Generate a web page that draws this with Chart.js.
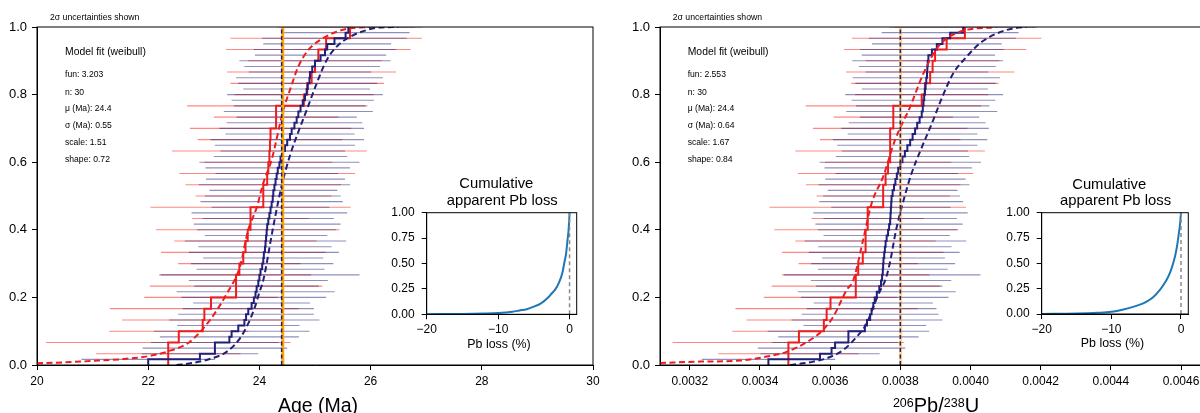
<!DOCTYPE html>
<html><head><meta charset="utf-8">
<script src="https://cdn.jsdelivr.net/npm/chart.js@4.4.0/dist/chart.umd.min.js"></script>
<style>
html,body{margin:0;padding:0;background:#fff;overflow:hidden;width:1200px;height:413px;}
#wrap{position:relative;width:1200px;height:413px;overflow:hidden;background:#fff;}
canvas{position:absolute;}
</style></head><body>
<div id="wrap">
<canvas id="cL" width="600" height="413" style="left:0px;top:0px;width:600px;height:413px"></canvas>
<canvas id="cR" width="610" height="413" style="left:600px;top:0px;width:610px;height:413px"></canvas>
<canvas id="iL" width="230" height="190" style="left:370px;top:170px;width:230px;height:190px"></canvas>
<canvas id="iR" width="215" height="190" style="left:985px;top:170px;width:215px;height:190px"></canvas>
</div>
<script>
// ---------------- DATA ----------------
// Left panel (age, Ma)
const xTicksAge = [20, 22, 24, 26, 28, 30];
const yTicksMain = [0, 0.2, 0.4, 0.6, 0.8, 1.0];
const statsLeft = ['fun: 3.203', 'n: 30', 'μ (Ma): 24.4', 'σ (Ma): 0.55', 'scale: 1.51', 'shape: 0.72'];
const muAge = 24.42;       // orange line
const muAgeDash = 24.40;   // dashed line

const redAgeSorted = [22.36, 22.36, 22.55, 22.98, 23.01, 23.13, 23.58, 23.58, 23.64, 23.71,
  23.75, 23.79, 23.84, 23.84, 24.07, 24.07, 24.14, 24.16, 24.18, 24.19,
  24.20, 24.30, 24.30, 24.80, 24.86, 24.94, 25.00, 25.06, 25.20, 25.63];
const redAgeErr = [1.30, 2.20, 1.25, 1.45, 1.70, 1.20, 1.55, 1.35, 1.10, 1.48,
  1.28, 1.65, 1.05, 1.80, 1.22, 1.40, 1.58, 1.15, 1.75, 1.30,
  1.45, 1.12, 1.60, 1.25, 1.38, 1.52, 1.20, 1.66, 1.72, 1.30];

const blueAgeSorted = [22.00, 22.93, 23.20, 23.20, 23.46, 23.50, 23.62, 23.73, 23.76, 23.80,
  23.86, 23.90, 23.93, 23.95, 23.98, 24.00, 24.02, 24.05, 24.07, 24.08,
  24.10, 24.11, 24.12, 24.13, 24.14, 24.16, 24.18, 24.20, 24.22, 24.24,
  24.25, 24.27, 24.29, 24.31, 24.33, 24.36, 24.38, 24.42, 24.46, 24.50,
  24.55, 24.58, 24.63, 24.67, 24.70, 24.74, 24.78, 24.82, 24.85, 24.87,
  24.90, 24.91, 24.95, 25.00, 25.10, 25.18, 25.22, 25.35, 25.55, 25.60];
const blueAgeErr = [1.20, 1.05, 1.30, 1.15, 1.25, 1.40, 1.10, 1.35, 1.22, 1.18,
  1.05, 1.30, 1.42, 1.12, 1.25, 1.80, 1.15, 1.28, 1.08, 1.35,
  1.20, 1.45, 1.10, 1.25, 1.32, 1.18, 1.40, 1.06, 1.28, 1.22,
  1.15, 1.36, 1.25, 1.10, 1.30, 1.44, 1.20, 1.12, 1.26, 1.38,
  1.16, 1.30, 1.22, 1.08, 1.34, 1.20, 1.28, 1.40, 1.14, 1.25,
  1.32, 1.10, 1.22, 1.36, 1.18, 1.28, 1.15, 1.30, 1.15, 1.20];

const redFitAgeX = [20.0, 20.5, 21.0, 21.5, 22.0, 22.33, 22.75, 23.11, 23.41, 23.65, 23.80, 23.95, 24.07, 24.22, 24.43, 24.55, 24.70, 24.88, 25.15, 25.39, 25.63, 26.0];
const redFitAgeY = [0.005, 0.008, 0.012, 0.017, 0.026, 0.039, 0.069, 0.133, 0.21, 0.291, 0.40, 0.465, 0.538, 0.607, 0.754, 0.814, 0.883, 0.932, 0.967, 0.986, 0.996, 1.0];
const blueFitAgeX = [22.51, 22.8, 23.05, 23.41, 23.65, 23.80, 23.92, 24.0, 24.07, 24.25, 24.40, 24.55, 24.70, 24.85, 25.03, 25.21, 25.39, 25.63, 25.93, 26.11, 26.5];
const blueFitAgeY = [0.0, 0.006, 0.015, 0.039, 0.079, 0.123, 0.172, 0.215, 0.251, 0.41, 0.53, 0.62, 0.69, 0.754, 0.833, 0.902, 0.942, 0.971, 0.991, 0.998, 1.0];

// Right panel (206Pb/238U)
const xTicksRatio = [0.0032, 0.0034, 0.0036, 0.0038, 0.0040, 0.0042, 0.0044, 0.0046];
const statsRight = ['fun: 2.553', 'n: 30', 'μ (Ma): 24.4', 'σ (Ma): 0.64', 'scale: 1.67', 'shape: 0.84'];
const muRatio = 0.003801;
const muRatioDash = 0.003800;

const redRatioSorted = [0.003481, 0.003481, 0.003511, 0.003582, 0.003590, 0.003601, 0.003673, 0.003673, 0.003680, 0.003693,
  0.003701, 0.003701, 0.003707, 0.003707, 0.003751, 0.003751, 0.003758, 0.003765, 0.003771, 0.003771,
  0.003771, 0.003780, 0.003780, 0.003861, 0.003870, 0.003885, 0.003892, 0.003899, 0.003932, 0.003984];
const redRatioErr = [0.000200, 0.000330, 0.000190, 0.000220, 0.000260, 0.000190, 0.000240, 0.000210, 0.000170, 0.000230,
  0.000200, 0.000260, 0.000160, 0.000280, 0.000190, 0.000220, 0.000250, 0.000180, 0.000270, 0.000200,
  0.000220, 0.000170, 0.000250, 0.000190, 0.000210, 0.000240, 0.000190, 0.000260, 0.000270, 0.000200];

const blueRatioSorted = [0.003424, 0.003571, 0.003604, 0.003614, 0.003652, 0.003652, 0.003699, 0.003705, 0.003714, 0.003718,
  0.003723, 0.003727, 0.003733, 0.003740, 0.003745, 0.003748, 0.003750, 0.003751, 0.003752, 0.003754,
  0.003756, 0.003758, 0.003761, 0.003765, 0.003768, 0.003771, 0.003772, 0.003773, 0.003774, 0.003775,
  0.003778, 0.003782, 0.003786, 0.003790, 0.003794, 0.003800, 0.003806, 0.003813, 0.003820, 0.003828,
  0.003835, 0.003842, 0.003848, 0.003855, 0.003861, 0.003864, 0.003866, 0.003868, 0.003870, 0.003872,
  0.003874, 0.003876, 0.003877, 0.003878, 0.003880, 0.003890, 0.003904, 0.003920, 0.003942, 0.003979];
const blueRatioErr = [0.000190, 0.000170, 0.000210, 0.000180, 0.000200, 0.000230, 0.000175, 0.000215, 0.000195, 0.000185,
  0.000170, 0.000210, 0.000225, 0.000180, 0.000200, 0.000280, 0.000185, 0.000205, 0.000175, 0.000215,
  0.000190, 0.000230, 0.000180, 0.000200, 0.000210, 0.000190, 0.000220, 0.000170, 0.000205, 0.000195,
  0.000185, 0.000215, 0.000200, 0.000175, 0.000210, 0.000230, 0.000190, 0.000180, 0.000200, 0.000220,
  0.000185, 0.000210, 0.000195, 0.000170, 0.000215, 0.000190, 0.000205, 0.000225, 0.000180, 0.000200,
  0.000210, 0.000175, 0.000195, 0.000215, 0.000190, 0.000205, 0.000185, 0.000210, 0.000195, 0.000210];

const redFitRatioX = [0.003115, 0.003229, 0.003343, 0.003419, 0.003476, 0.003543, 0.003580, 0.003609, 0.003647, 0.003666, 0.003694, 0.003718, 0.003751, 0.003785, 0.003828, 0.003866, 0.003908, 0.003970, 0.004075];
const redFitRatioY = [0.006, 0.010, 0.013, 0.025, 0.039, 0.074, 0.104, 0.143, 0.222, 0.251, 0.370, 0.478, 0.557, 0.666, 0.764, 0.863, 0.942, 0.986, 1.0];
const blueFitRatioX = [0.003486, 0.003552, 0.003590, 0.003637, 0.003676, 0.003704, 0.003723, 0.003740, 0.003757, 0.003770, 0.003788, 0.003812, 0.003832, 0.003858, 0.003890, 0.003920, 0.003951, 0.003989, 0.004027, 0.004075, 0.004122, 0.004160];
const blueFitRatioY = [0.0, 0.010, 0.020, 0.044, 0.084, 0.123, 0.172, 0.215, 0.251, 0.301, 0.40, 0.498, 0.567, 0.636, 0.715, 0.794, 0.863, 0.912, 0.952, 0.981, 0.996, 1.0];

// Insets: cumulative apparent Pb loss
const insetXTicks = [-20, -10, 0];
const insetYTicks = [0, 0.25, 0.5, 0.75, 1.0];
const lossX = [-20, -15, -12, -10, -8, -7, -6, -5, -4, -3, -2.5, -2, -1.5, -1, -0.7, -0.5, -0.3, -0.15, -0.05, 0];
const lossLeftY = [0.001, 0.004, 0.008, 0.013, 0.026, 0.038, 0.05, 0.075, 0.108, 0.165, 0.205, 0.245, 0.31, 0.41, 0.52, 0.59, 0.72, 0.82, 0.92, 1.0];
const lossRightY = [0.001, 0.005, 0.012, 0.022, 0.05, 0.068, 0.09, 0.12, 0.165, 0.24, 0.29, 0.345, 0.42, 0.53, 0.62, 0.70, 0.80, 0.88, 0.96, 1.0];

// ---------------- HELPERS ----------------
const FONT = '"Liberation Sans", Arial, Helvetica, sans-serif';
Chart.defaults.font.family = FONT;
Chart.defaults.color = '#000';
Chart.defaults.animation = false;

const RED = '#f01c1c', NAVY = '#20207a';

function barPoints(centers, errs) {
  const n = centers.length, out = [];
  centers.forEach((c, i) => {
    const y = (i + 1) / n;
    out.push({x: c - errs[i], y: y}, {x: c + errs[i], y: y}, {x: c, y: null});
  });
  return out;
}
function ecdfPoints(sorted) {
  const n = sorted.length, pts = [{x: sorted[0], y: 0}];
  sorted.forEach((v, i) => pts.push({x: v, y: (i + 1) / n}));
  return pts;
}
function xy(xs, ys) { return xs.map((x, i) => ({x: x, y: ys[i]})); }

function axis(o) {
  return {
    type: 'linear', min: o.min, max: o.max, position: o.pos,
    afterBuildTicks: s => { s.ticks = o.ticks.map(v => ({value: v})); },
    afterFit: s => {
      if (o.w != null) { s.width = o.w; s.paddingTop = 0; s.paddingBottom = 0; }
      if (o.h != null) { s.height = o.h; s.paddingLeft = 0; s.paddingRight = 0; }
    },
    grid: {display: true, drawOnChartArea: false, drawTicks: true, tickLength: 5, color: '#000', lineWidth: 1},
    border: {display: true, color: '#000', width: 1},
    ticks: {color: '#000', font: {size: o.fs, family: FONT}, padding: o.pad, maxRotation: 0, minRotation: 0, autoSkip: false, callback: o.fmt}
  };
}

function overlay(texts, extra) {
  return {
    id: 'overlay',
    afterDatasetsDraw(chart) {
      const {ctx, chartArea: a} = chart;
      ctx.save();
      ctx.strokeStyle = '#000'; ctx.lineWidth = 1;
      ctx.strokeRect(a.left, a.top, a.right - a.left, a.bottom - a.top);
      ctx.restore();
    },
    afterDraw(chart) {
      const ctx = chart.ctx;
      ctx.save();
      ctx.fillStyle = '#000';
      texts.forEach(t => {
        ctx.font = t.s + 'px ' + FONT;
        ctx.textAlign = t.a || 'left';
        ctx.textBaseline = t.b || 'middle';
        ctx.fillText(t.t, t.x, t.y);
      });
      if (extra) extra(ctx);
      ctx.restore();
    }
  };
}

function statTexts(x0, stats) {
  const ys = [75, 92.3, 109, 126, 142.7, 160];
  const arr = [
    {t: '2σ uncertainties shown', x: x0 - 15, y: 17.3, s: 8.7},
    {t: 'Model fit (weibull)', x: x0, y: 51.7, s: 10.4}
  ];
  stats.forEach((s, i) => arr.push({t: s, x: x0, y: ys[i], s: 8.6}));
  return arr;
}

function mainDatasets(rs, re, bs, be, rfx, rfy, bfx, bfy, mu, muDash, orangeCol) {
  const base = {showLine: true, pointRadius: 0, clip: 0, spanGaps: false, fill: false};
  return [
    Object.assign({}, base, {data: [{x: muDash, y: 0}, {x: muDash, y: 1}], borderColor: NAVY, borderWidth: 1.5, borderDash: [4, 2.5], order: 0}),
    Object.assign({}, base, {data: [{x: mu, y: 0}, {x: mu, y: 1}], borderColor: orangeCol, borderWidth: 3, order: 1}),
    Object.assign({}, base, {data: xy(bfx, bfy), borderColor: NAVY, borderWidth: 2, borderDash: [6, 3.5], cubicInterpolationMode: 'monotone', order: 2}),
    Object.assign({}, base, {data: xy(rfx, rfy), borderColor: RED, borderWidth: 2, borderDash: [6, 3.5], cubicInterpolationMode: 'monotone', order: 3}),
    Object.assign({}, base, {data: ecdfPoints(bs), borderColor: NAVY, borderWidth: 2, stepped: 'before', order: 4}),
    Object.assign({}, base, {data: ecdfPoints(rs), borderColor: RED, borderWidth: 2, stepped: 'before', order: 5}),
    Object.assign({}, base, {data: barPoints(bs, be), borderColor: 'rgba(32,32,122,0.5)', borderWidth: 1.1, order: 6}),
    Object.assign({}, base, {data: barPoints(rs, re), borderColor: 'rgba(255,40,25,0.55)', borderWidth: 1.1, order: 7})
  ];
}

const commonOpts = {
  responsive: false, animation: false, events: [], devicePixelRatio: 1,
  plugins: {legend: {display: false}, tooltip: {enabled: false}, title: {display: false}}
};

// ---------------- LEFT MAIN ----------------
new Chart(document.getElementById('cL'), {
  type: 'scatter',
  data: {datasets: mainDatasets(redAgeSorted, redAgeErr, blueAgeSorted, blueAgeErr,
    redFitAgeX, redFitAgeY, blueFitAgeX, blueFitAgeY, muAge, muAgeDash, '#ffa500')},
  options: Object.assign({}, commonOpts, {
    layout: {padding: {top: 27, right: 7, left: 0, bottom: 0}},
    scales: {
      x: axis({min: 20, max: 30, ticks: xTicksAge, h: 48, fs: 12, pad: 4, pos: 'bottom', fmt: v => String(v)}),
      y: axis({min: 0, max: 1, ticks: yTicksMain, w: 37, fs: 13, pad: 5, pos: 'left', fmt: v => v.toFixed(1)})
    }
  }),
  plugins: [overlay(statTexts(65, statsLeft).concat([{t: 'Age (Ma)', x: 318, y: 411.5, s: 19.5, a: 'center', b: 'alphabetic'}]))]
});

// ---------------- RIGHT MAIN ----------------
function ratioTitle(ctx) {
  const cx = 336, base = 411.5, supBase = 406.5;
  const parts = [['206', 12.5, supBase], ['Pb/', 20, base], ['238', 12.5, supBase], ['U', 20, base]];
  let total = 0;
  parts.forEach(p => { ctx.font = p[1] + 'px ' + FONT; p.push(ctx.measureText(p[0]).width); total += p[3]; });
  let x = cx - total / 2;
  ctx.textAlign = 'left'; ctx.textBaseline = 'alphabetic';
  parts.forEach(p => { ctx.font = p[1] + 'px ' + FONT; ctx.fillText(p[0], x, p[2]); x += p[3]; });
}
new Chart(document.getElementById('cR'), {
  type: 'scatter',
  data: {datasets: mainDatasets(redRatioSorted, redRatioErr, blueRatioSorted, blueRatioErr,
    redFitRatioX, redFitRatioY, blueFitRatioX, blueFitRatioY, muRatio, muRatioDash, 'rgba(255,165,0,0.45)')},
  options: Object.assign({}, commonOpts, {
    layout: {padding: {top: 27, right: 9, left: 0, bottom: 0}},
    scales: {
      x: axis({min: 0.003115, max: 0.004657, ticks: xTicksRatio, h: 48, fs: 12, pad: 4, pos: 'bottom', fmt: v => v.toFixed(4)}),
      y: axis({min: 0, max: 1, ticks: yTicksMain, w: 60, fs: 13, pad: 5, pos: 'left', fmt: v => v.toFixed(1)})
    }
  }),
  plugins: [overlay(statTexts(87.7, statsRight), ratioTitle)]
});

// ---------------- INSETS ----------------
function insetChart(id, ys, xmax, padRight, xh, texts) {
  new Chart(document.getElementById(id), {
    type: 'scatter',
    data: {datasets: [
      {data: xy(lossX, ys), showLine: true, pointRadius: 0, borderColor: '#1f77b4', borderWidth: 2, cubicInterpolationMode: 'monotone', clip: 0, order: 1},
      {data: [{x: 0, y: 0}, {x: 0, y: 1}], showLine: true, pointRadius: 0, borderColor: '#8a8a8a', borderWidth: 1.5, borderDash: [4, 3], clip: 0, order: 0}
    ]},
    options: Object.assign({}, commonOpts, {
      layout: {padding: {top: 42.7, right: padRight, left: 0, bottom: 0}},
      scales: {
        x: axis({min: -20, max: xmax, ticks: insetXTicks, h: xh, fs: 12, pad: 3, pos: 'bottom', fmt: v => (v < 0 ? '\u2212' + Math.abs(v) : String(v))}),
        y: axis({min: 0, max: 1, ticks: insetYTicks, w: 56.7, fs: 12, pad: 7, pos: 'left', fmt: v => v.toFixed(2)})
      }
    }),
    plugins: [overlay(texts)]
  });
}
insetChart('iL', lossLeftY, 1.0, 23.3, 45.7, [
  {t: 'Cumulative', x: 126.3, y: 14.3, s: 14.8, a: 'center'},
  {t: 'apparent Pb loss', x: 132.2, y: 31, s: 14.8, a: 'center'},
  {t: 'Pb loss (%)', x: 129, y: 175, s: 12.4, a: 'center'}
]);
insetChart('iR', lossRightY, 1.05, 11.7, 46, [
  {t: 'Cumulative', x: 124.2, y: 15, s: 14.8, a: 'center'},
  {t: 'apparent Pb loss', x: 130.5, y: 31, s: 14.8, a: 'center'},
  {t: 'Pb loss (%)', x: 127.5, y: 174, s: 12.4, a: 'center'}
]);
</script>
</body></html>
